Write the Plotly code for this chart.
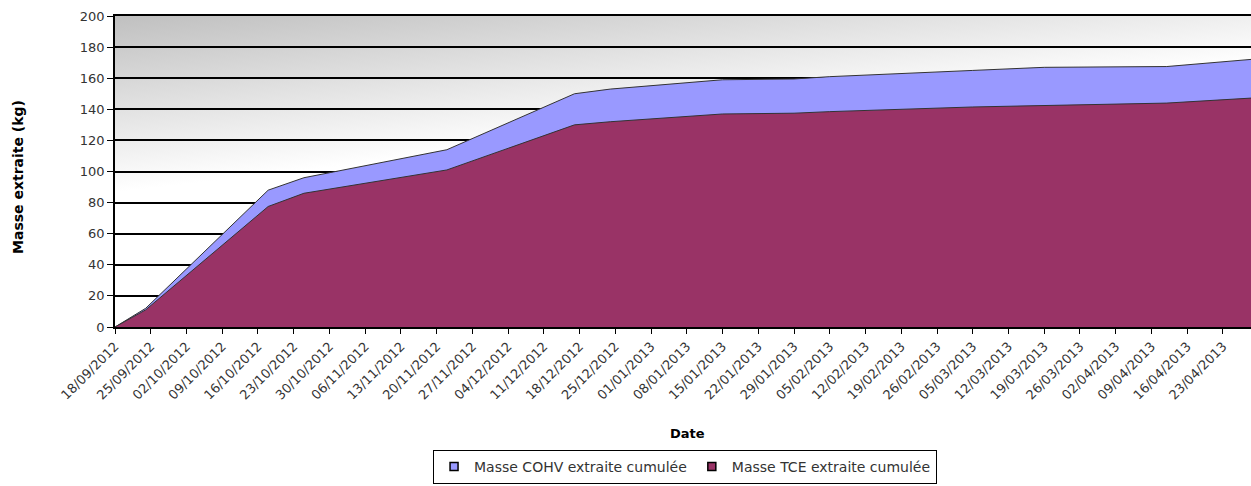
import base64
import plotly.graph_objects as go

# ---- data ----
dates = ["2012-09-18", "2012-09-24", "2012-10-18", "2012-10-25", "2012-11-22",
         "2012-12-17", "2012-12-24", "2013-01-15", "2013-01-29", "2013-02-05",
         "2013-03-05", "2013-03-19", "2013-04-12", "2013-04-30"]
cohv = [0, 12, 88, 96, 114, 150, 153, 159, 159.5, 161, 165, 167, 167.5, 172.5]
tce = [0, 11, 77.5, 86, 101, 130, 132, 137, 137.5, 138.5, 141.5, 142.5, 144, 147.5]

name_cohv = "Masse COHV extraite cumulée"
name_tce = "Masse TCE extraite cumulée"
y_title = "Masse extraite (kg)"
x_title = "Date"

col_cohv = "#9999ff"
col_tce = "#993366"

W, H = 1251, 486
ML, MR, MT, MB = 115, 0, 16, 159
PW, PH = W - ML - MR, H - MT - MB

# background gradient for the plot area
svg = (
    f'<svg xmlns="http://www.w3.org/2000/svg" width="{PW}" height="{PH}" '
    f'viewBox="0 0 {PW} {PH}" preserveAspectRatio="none">'
    '<defs><linearGradient id="g" gradientUnits="userSpaceOnUse" x1="0" y1="0" x2="20" y2="174">'
    '<stop offset="0" stop-color="#c0c0c0"/><stop offset="1" stop-color="#ffffff"/>'
    '</linearGradient></defs>'
    f'<rect x="0" y="0" width="{PW}" height="{PH}" fill="url(#g)"/></svg>'
)
bg_uri = "data:image/svg+xml;base64," + base64.b64encode(svg.encode()).decode()

fig = go.Figure()
fig.add_trace(go.Scatter(
    x=dates, y=cohv, name=name_cohv, mode="lines", showlegend=False,
    fill="tozeroy", fillcolor=col_cohv, legendgroup="cohv",
    line=dict(color="#333333", width=1),
))
fig.add_trace(go.Scatter(
    x=dates, y=tce, name=name_tce, mode="lines", showlegend=False,
    fill="tozeroy", fillcolor=col_tce, legendgroup="tce",
    line=dict(color="#333333", width=1),
))
# legend entries with small square keys, as in the reference
for nm, col, grp in [(name_cohv, col_cohv, "cohv"), (name_tce, col_tce, "tce")]:
    fig.add_trace(go.Scatter(
        x=[None], y=[None], name=nm, mode="markers", legendgroup=grp,
        marker=dict(symbol="square", size=8, color=col,
                    line=dict(color="black", width=1.5)),
    ))

tick_font = dict(family="DejaVu Sans", size=13, color="#333333")

fig.update_layout(
    width=W, height=H,
    margin=dict(l=ML, r=MR, t=MT, b=MB, autoexpand=False),
    paper_bgcolor="white",
    plot_bgcolor="rgba(0,0,0,0)",
    showlegend=True,
    legend=dict(
        orientation="h", x=0.5018, xanchor="center", y=(MT + PH - 484) / PH, yanchor="bottom",
        bordercolor="black", borderwidth=1, bgcolor="white",
        font=dict(family="DejaVu Sans", size=14, color="#333333"),
        traceorder="normal", itemwidth=30, tracegroupgap=0,
    ),
    images=[dict(
        source=bg_uri, xref="paper", yref="paper", x=0, y=1,
        sizex=1, sizey=1, xanchor="left", yanchor="top",
        sizing="stretch", layer="below",
    )],
    xaxis=dict(
        type="date",
        range=["2012-09-18", "2013-04-28 12:00"],
        tick0="2012-09-18", dtick=7 * 86400000,
        tickformat="%d/%m/%Y", tickangle=-45,
        ticks="outside", ticklen=5, tickcolor="black", tickwidth=1,
        showgrid=False, zeroline=False,
        showline=True, linecolor="black", linewidth=1.5, mirror=True,
        tickfont=tick_font,
    ),
    yaxis=dict(
        range=[0, 200], tick0=0, dtick=20,
        ticks="outside", ticklen=6, tickcolor="black", tickwidth=1,
        showgrid=True, gridcolor="black", gridwidth=1.6,
        zeroline=False,
        showline=True, linecolor="black", linewidth=1.5,
        tickfont=tick_font,
    ),
    annotations=[
        dict(text=f"<b>{y_title}</b>", xref="paper", yref="paper",
             x=(18 - ML) / PW, y=(MT + PH - 177) / PH,
             xanchor="center", yanchor="middle", textangle=-90, showarrow=False,
             font=dict(family="DejaVu Sans", size=14, color="black")),
        dict(text=f"<b>{x_title}</b>", xref="paper", yref="paper",
             x=(687 - ML) / PW, y=(MT + PH - 433) / PH,
             xanchor="center", yanchor="middle", showarrow=False,
             font=dict(family="DejaVu Sans", size=13, color="black")),
    ],
)

post = (
    "document.documentElement.style.margin='0';"
    "document.documentElement.style.overflow='hidden';"
    "document.body.style.margin='0';"
    "document.body.style.overflow='hidden';"
)
fig.write_html("out.html", post_script=post, config={"displayModeBar": False})
